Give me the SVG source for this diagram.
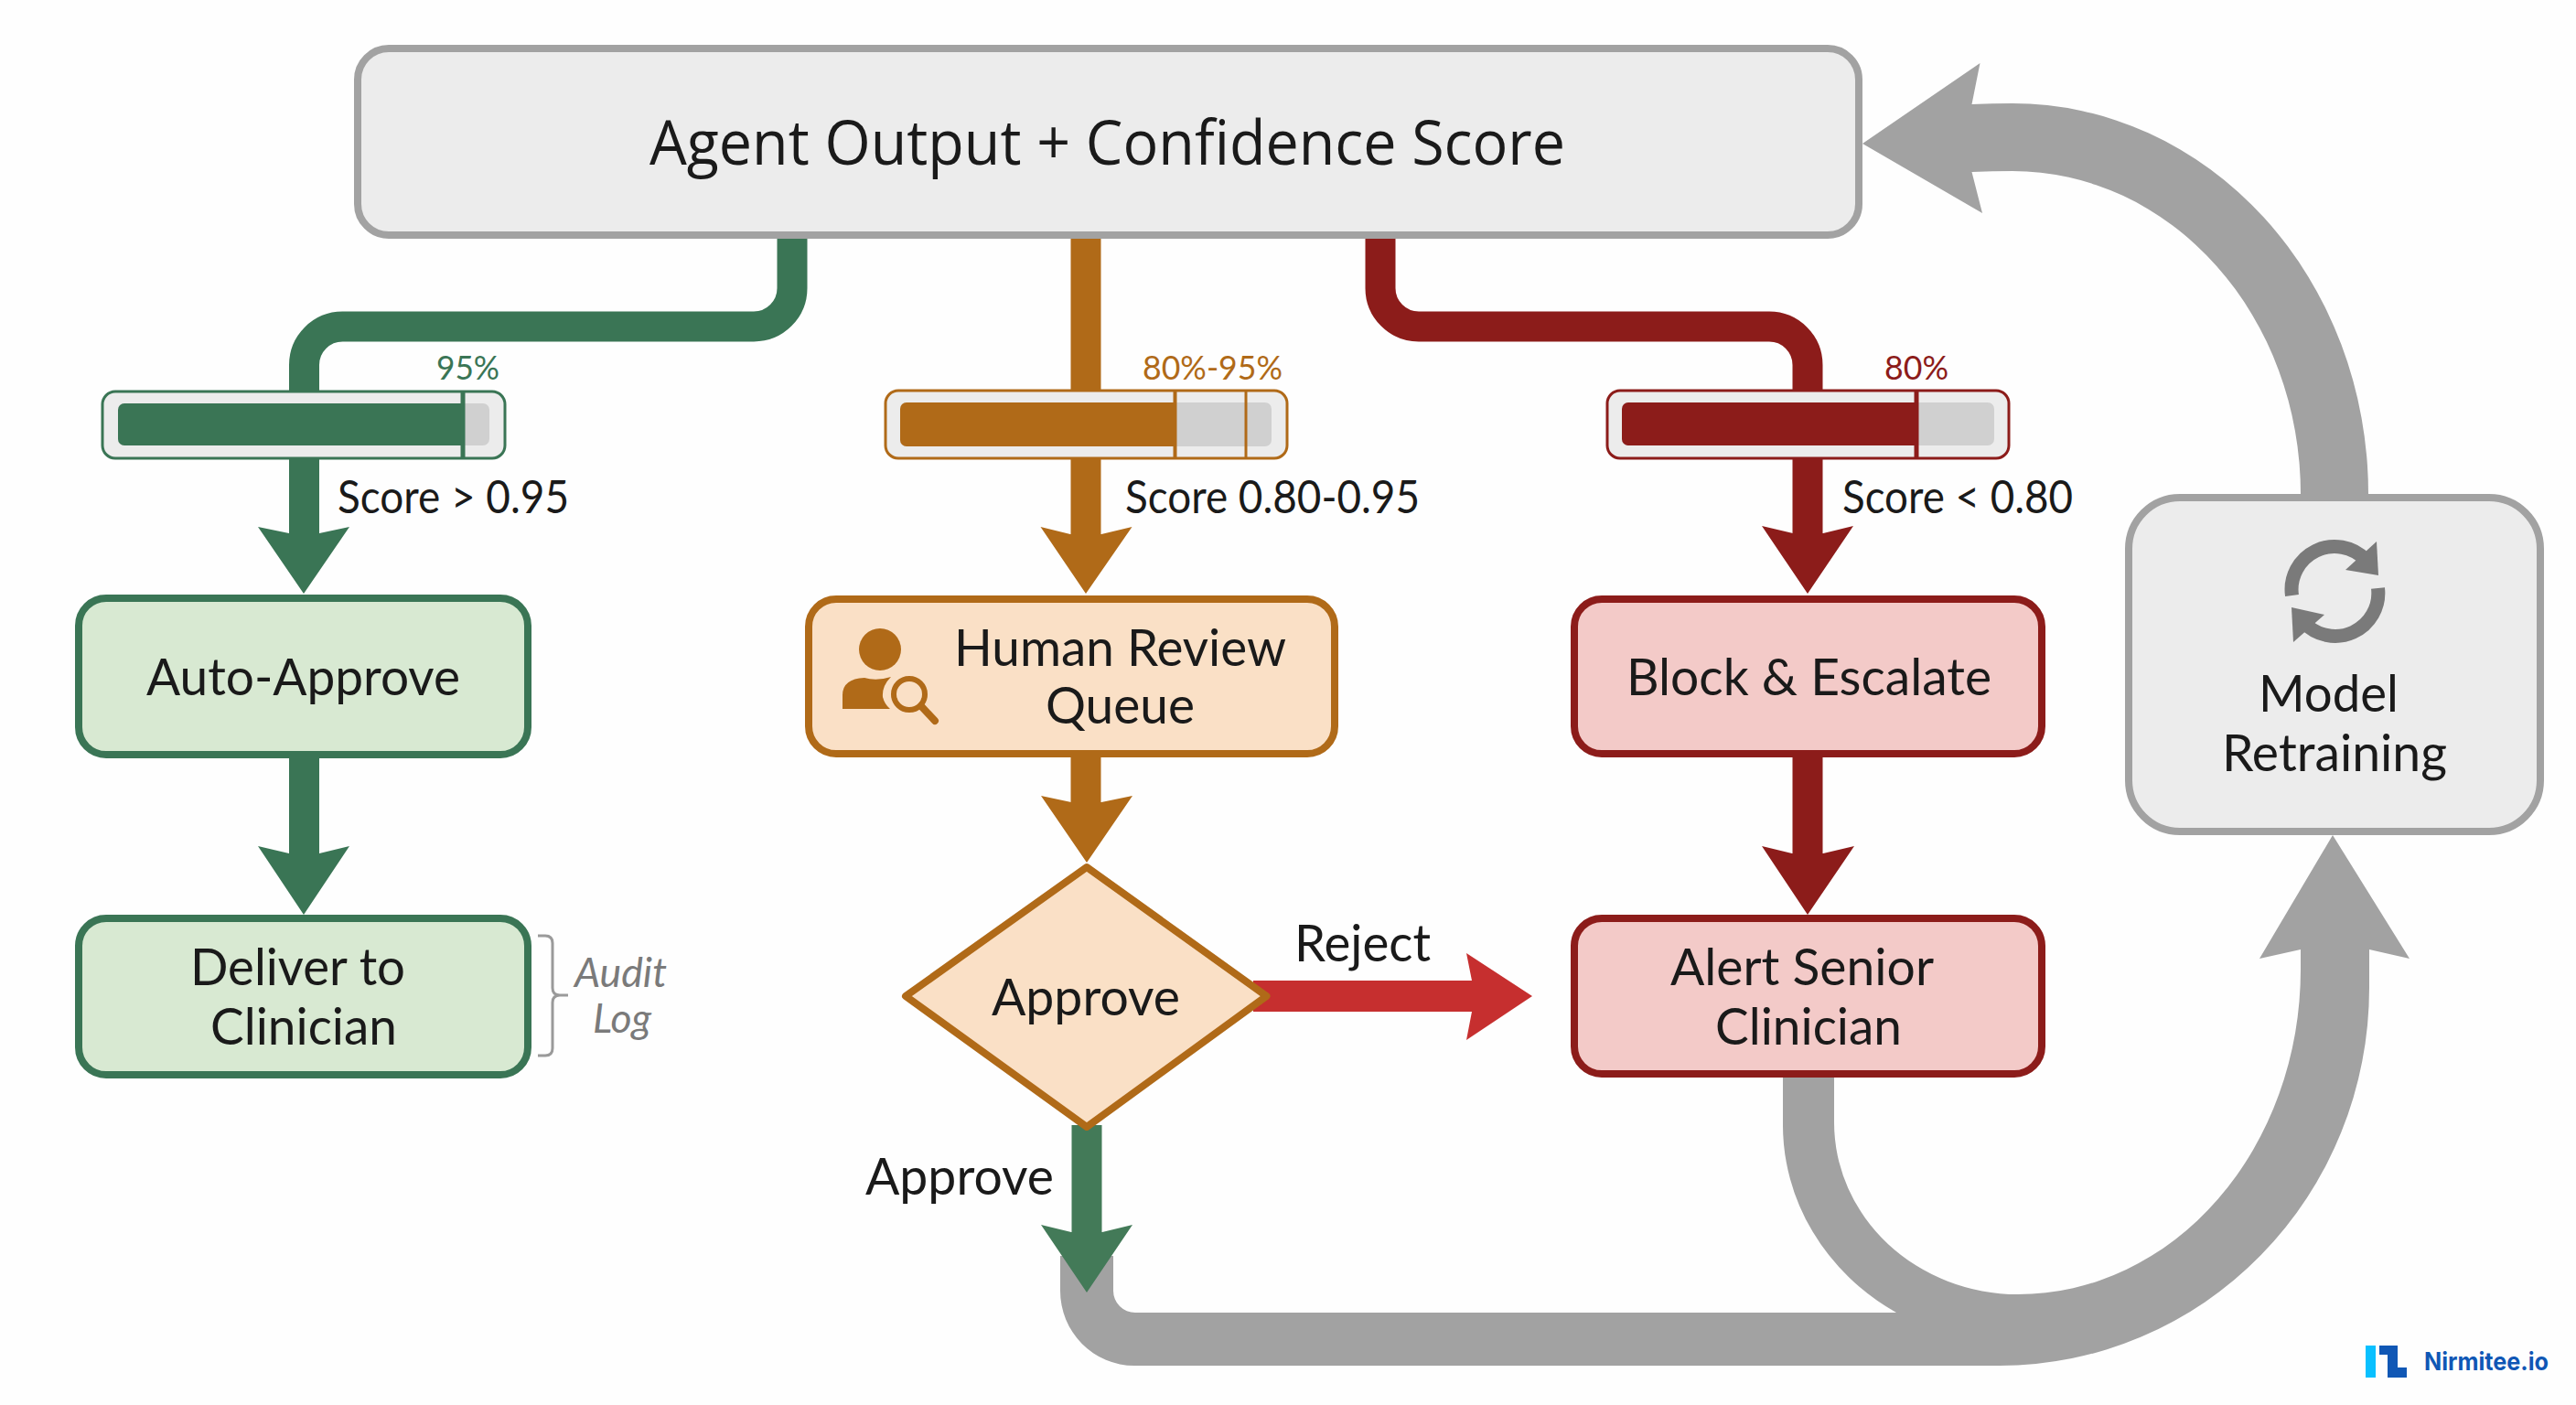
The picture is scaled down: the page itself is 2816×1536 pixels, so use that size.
<svg xmlns="http://www.w3.org/2000/svg" width="2816" height="1536" viewBox="0 0 2816 1536">
<style>
text{font-family:Lato,"Liberation Sans",sans-serif;fill:#1a1a1a}
.node{stroke-width:8}
.g{fill:#d8e9d2;stroke:#3a7555}
.o{fill:#fae0c6;stroke:#b06a18}
.r{fill:#f3cac8;stroke:#8c1c1a}
.n{fill:#ececec;stroke:#a2a2a2}
.lbl{font-size:57px}
.cl{font-size:50px}
.pct{font-size:37px}
.trk{fill:#ececec;stroke-width:3}
.in{fill:#d0d0d0}
.ln{fill:none;stroke-width:33}
</style>
<rect width="2816" height="1536" fill="#fefefe"/>
<g id="connectors">
<path class="ln" d="M866 255V315A42 42 0 0 1 824 357H374.500A42 42 0 0 0 332.500 399V590" stroke="#3a7555"/>
<path d="M282 576L316 583H349L382 576L332 649Z" fill="#3a7555"/>
<path class="ln" d="M1187 255V590" stroke="#b06a18"/>
<path d="M1137.500 576L1170 584H1204L1237.500 576L1187 649Z" fill="#b06a18"/>
<path class="ln" d="M1509 255V315A42 42 0 0 0 1551 357H1934A42 42 0 0 1 1976 399V590" stroke="#8c1c1a"/>
<path d="M1926 575L1960 583H1993L2026 575L1976 649Z" fill="#8c1c1a"/>
<path class="ln" d="M332.500 825V935" stroke="#3a7555"/>
<path d="M282 925L316 933H349L382 925L332 1000Z" fill="#3a7555"/>
<path class="ln" d="M1187 825V885" stroke="#b06a18"/>
<path d="M1138 870L1171 877H1204L1238 870L1188 943Z" fill="#b06a18"/>
<path class="ln" d="M1976 825V935" stroke="#8c1c1a"/>
<path d="M1926 925L1959 933H1993L2027 925L1976 1000Z" fill="#8c1c1a"/>
<path d="M1370 1072H1609L1603 1042L1675 1089L1603 1137L1609 1106H1370Z" fill="#c62f2f"/>
<path d="M1159 1373V1411A81 82 0 0 0 1240 1493H2186A404 413 0 0 0 2590 1080V1038L2634 1048L2550 913L2470 1048L2515 1038V1060A309 355 0 0 1 2206 1415A201 188 0 0 1 2005 1227V1170H1949V1227A257 240 0 0 0 2073 1435H1241A24 24 0 0 1 1217 1411V1373Z" fill="#a2a2a2"/>
<path d="M2589 545V540A389 427 0 0 0 2200 113Q2178 113 2155.500 114L2164.500 69L2036 157L2167 233L2155.500 188Q2178 187 2200 187A315 353 0 0 1 2515 540V545Z" fill="#a2a2a2"/>
<path class="ln" d="M1188 1230V1360" stroke="#437a58"/>
<path d="M1138 1339L1171 1347H1205L1238 1339L1188 1413Z" fill="#437a58"/>
<text class="lbl" x="946" y="1306" textLength="206" lengthAdjust="spacingAndGlyphs">Approve</text>
<text class="lbl" x="1415" y="1051" textLength="149" lengthAdjust="spacingAndGlyphs">Reject</text>
<text class="cl" x="369" y="561" textLength="253" lengthAdjust="spacingAndGlyphs">Score &gt; 0.95</text>
<text class="cl" x="1230" y="561" textLength="322" lengthAdjust="spacingAndGlyphs">Score 0.80-0.95</text>
<text class="cl" x="2014" y="561" textLength="252" lengthAdjust="spacingAndGlyphs">Score &lt; 0.80</text>
</g>
<g id="bar-high">
<rect class="trk" x="112" y="428" width="440" height="73" rx="14" stroke="#3a7555"/>
<rect class="in" x="129" y="441" width="406" height="46" rx="7"/>
<path d="M129 448a7 7 0 0 1 7-7H506V487H136a7 7 0 0 1-7-7Z" fill="#3a7555"/>
<path d="M506 428V501" stroke="#3a7555" stroke-width="5"/>
<text class="pct" x="477" y="415" textLength="69" lengthAdjust="spacingAndGlyphs" style="fill:#3a7555">95%</text>
</g>
<g id="bar-mid">
<rect class="trk" x="968" y="427" width="439" height="74" rx="14" stroke="#b06a18"/>
<rect class="in" x="984" y="440" width="406" height="48" rx="7"/>
<path d="M984 447a7 7 0 0 1 7-7H1284V488H991a7 7 0 0 1-7-7Z" fill="#b06a18"/>
<path d="M1284.500 427V501" stroke="#b06a18" stroke-width="4"/>
<path d="M1362 427V501" stroke="#b06a18" stroke-width="3"/>
<text class="pct" x="1249" y="415" textLength="153" lengthAdjust="spacingAndGlyphs" style="fill:#b06a18">80%-95%</text>
</g>
<g id="bar-low">
<rect class="trk" x="1757" y="427" width="439" height="74" rx="14" stroke="#8c1c1a"/>
<rect class="in" x="1773" y="440" width="407" height="47" rx="7"/>
<path d="M1773 447a7 7 0 0 1 7-7H2095V487H1780a7 7 0 0 1-7-7Z" fill="#8c1c1a"/>
<path d="M2095 427V501" stroke="#8c1c1a" stroke-width="5"/>
<text class="pct" x="2060" y="415" textLength="70" lengthAdjust="spacingAndGlyphs" style="fill:#8c1c1a">80%</text>
</g>
<g id="agent-output">
<rect class="node n" x="391" y="53" width="1641" height="204" rx="34"/>
<text x="710" y="180" font-size="67" textLength="1001" lengthAdjust="spacingAndGlyphs" style="font-family:'Open Sans','Liberation Sans',sans-serif">Agent Output + Confidence Score</text>
</g>
<g id="auto-approve">
<rect class="node g" x="86" y="654" width="491" height="171" rx="30"/>
<text class="lbl" x="160" y="760" textLength="343" lengthAdjust="spacingAndGlyphs">Auto-Approve</text>
</g>
<g id="deliver">
<rect class="node g" x="86" y="1004" width="491" height="171" rx="30"/>
<text class="lbl" x="208" y="1077" textLength="235" lengthAdjust="spacingAndGlyphs">Deliver to</text>
<text class="lbl" x="230" y="1142" textLength="204" lengthAdjust="spacingAndGlyphs">Clinician</text>
</g>
<g id="audit-log">
<path d="M588 1023H596Q604 1023 604 1031V1080Q604 1088 612 1088H621H612Q604 1088 604 1096V1146Q604 1154 596 1154H588" fill="none" stroke="#9a9a9a" stroke-width="3"/>
<text x="628" y="1079" font-size="44" font-style="italic" textLength="101" lengthAdjust="spacingAndGlyphs" style="fill:#7a7a7a">Audit</text>
<text x="648" y="1129" font-size="44" font-style="italic" textLength="64" lengthAdjust="spacingAndGlyphs" style="fill:#7a7a7a">Log</text>
</g>
<g id="human-review">
<rect class="node o" x="884" y="655" width="575" height="169" rx="30"/>
<circle cx="962" cy="710" r="23" fill="#b06a18"/>
<path d="M921 775V760Q921 742 945 741Q958 745 974 740Q964 750 965 762Q967 770 973 775Z" fill="#b06a18"/>
<circle cx="994" cy="759" r="17" fill="#fae0c6" stroke="#b06a18" stroke-width="6"/>
<path d="M1007 772L1022 788" stroke="#b06a18" stroke-width="8" stroke-linecap="round"/>
<text class="lbl" x="1043" y="728" textLength="363" lengthAdjust="spacingAndGlyphs">Human Review</text>
<text class="lbl" x="1143" y="791" textLength="163" lengthAdjust="spacingAndGlyphs">Queue</text>
</g>
<g id="approve-decision">
<path class="node o" d="M990 1089L1188 948L1384.500 1089L1188 1232Z" stroke-linejoin="round"/>
<text class="lbl" x="1084" y="1110" textLength="206" lengthAdjust="spacingAndGlyphs">Approve</text>
</g>
<g id="block-escalate">
<rect class="node r" x="1721" y="655" width="511" height="169" rx="30"/>
<text class="lbl" x="1778" y="760" textLength="399" lengthAdjust="spacingAndGlyphs">Block &amp; Escalate</text>
</g>
<g id="alert-senior">
<rect class="node r" x="1721" y="1004" width="511" height="170" rx="30"/>
<text class="lbl" x="1826" y="1077" textLength="288" lengthAdjust="spacingAndGlyphs">Alert Senior</text>
<text class="lbl" x="1875" y="1142" textLength="204" lengthAdjust="spacingAndGlyphs">Clinician</text>
</g>
<g id="model-retraining">
<rect class="node n" x="2327" y="544" width="450" height="365" rx="56"/>
<path d="M2505.500 651A47 47 0 0 1 2586 612" fill="none" stroke="#7a7a7a" stroke-width="15"/>
<path d="M2598 592L2600 629L2564 623Z" fill="#7a7a7a"/>
<path d="M2599.500 643A47 47 0 0 1 2518 680" fill="none" stroke="#7a7a7a" stroke-width="15"/>
<path d="M2505 664L2541 672L2507 702Z" fill="#7a7a7a"/>
<text class="lbl" x="2469" y="778" textLength="153" lengthAdjust="spacingAndGlyphs">Model</text>
<text class="lbl" x="2429" y="843" textLength="246" lengthAdjust="spacingAndGlyphs">Retraining</text>
</g>
<g id="logo">
<rect x="2586" y="1471" width="11" height="35" fill="#09c0ff"/>
<path d="M2601 1471H2621V1495H2631V1506H2610V1481H2601Z" fill="#1057b5"/>
<text x="2650" y="1498" font-size="27" font-weight="700" textLength="136" lengthAdjust="spacingAndGlyphs" style="font-family:Inter,'Liberation Sans',sans-serif;fill:#1057b5">Nirmitee.io</text>
</g>
</svg>
